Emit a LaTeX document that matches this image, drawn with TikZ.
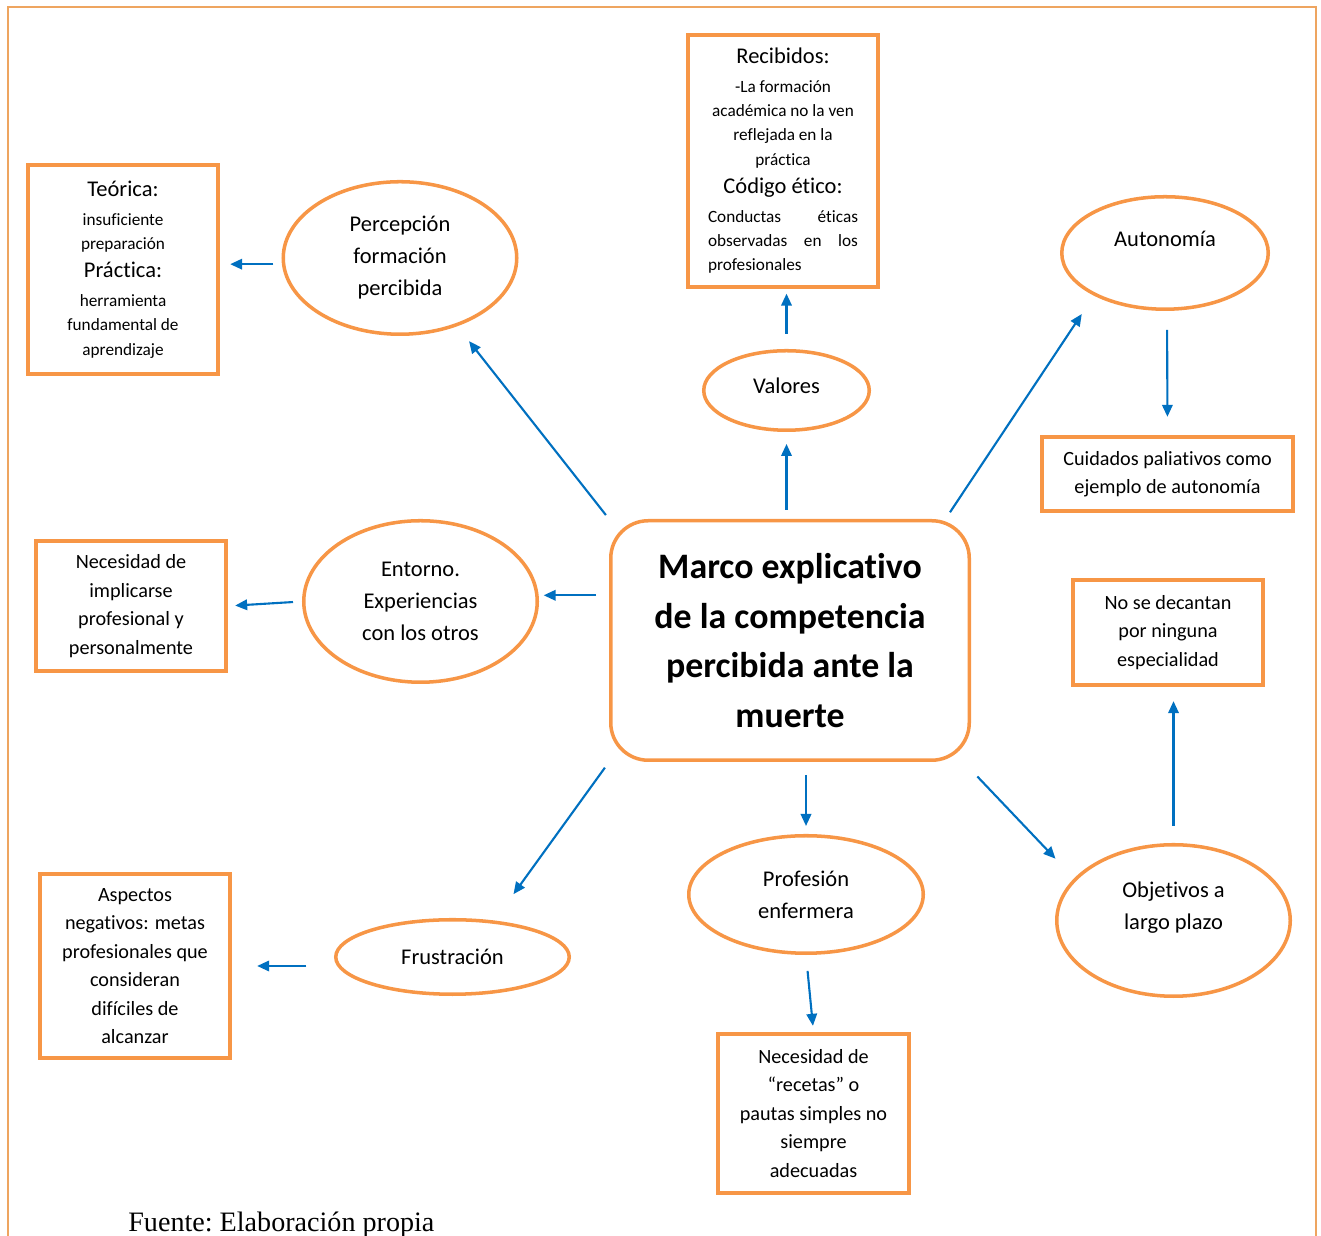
\documentclass[tikz,border=0pt]{standalone}
\usepackage{fontspec}
\setmainfont{Carlito}[Ligatures={TeX,NoCommon}]
\newfontfamily\mecSourceFont{Liberation Serif}
\usetikzlibrary{arrows.meta}
\usetikzlibrary{shapes.geometric}
\definecolor{mecOrange}{HTML}{F79646}
\definecolor{mecBlue}{HTML}{0070C0}
\definecolor{mecFrame}{HTML}{EEA560}
\newcommand{\mecHead}{\fontsize{12.8}{16}\selectfont}
\tikzset{
  mec box/.style={
    rectangle,
    draw=mecOrange,
    line width=2.2pt,
    fill=white,
    align=center,
    inner sep=0pt,
    font=\fontsize{11.5}{16.2}\selectfont,
  },
}
\tikzset{
  mec notes/.style={
    mec box,
    font=\fontsize{9.8}{13.8}\selectfont,
  },
}
\tikzset{
  mec oval/.style={
    ellipse,
    draw=mecOrange,
    line width=2pt,
    fill=white,
    align=center,
    inner sep=0pt,
    font=\fontsize{12.8}{18.2}\selectfont,
  },
}
\tikzset{
  mec core/.style={
    rectangle,
    rounded corners=0.75cm,
    draw=mecOrange,
    line width=2pt,
    align=center,
    inner sep=0pt,
    font=\bfseries\fontsize{20.4}{28.2}\selectfont,
  },
}
\tikzset{
  mec arrow/.style={
    -{Triangle[length=2.4mm,width=2.1mm]},
    draw=mecBlue,
    line width=1.2pt,
  },
}
\tikzset{
  mec frame/.style={
    draw=mecFrame,
    line width=1pt,
  },
}

\begin{document}
\begin{tikzpicture}

  \useasboundingbox (0,0) rectangle (26.42,24.72);

  % =========================================================================
  % page frame (open at the bottom)
  % =========================================================================
  \draw[mec frame] (0.16,0) -- (0.16,24.58) -- (26.32,24.58) -- (26.32,0);

  % =========================================================================
  % central box
  % =========================================================================
  \node[mec core, minimum width=7.17cm, minimum height=4.79cm]
    (marco) at (15.80, 11.91)
    {Marco explicativo\\de la competencia\\percibida ante la\\muerte};

  % =========================================================================
  % upper left: perception of training
  % =========================================================================
  \node[mec oval, minimum width=4.67cm, minimum height=3.05cm]
    (percepcion) at (8.00, 19.56) {Percepción\\formación\\percibida};
  \node[mec notes, minimum width=3.81cm, minimum height=4.19cm]
    (teorica) at (2.46, 19.33)
    {{\mecHead Teórica:}\\[2.5pt]
     insuficiente\\
     preparación\\[2.5pt]
     {\mecHead Práctica:}\\[2.5pt]
     herramienta\\
     fundamental de\\
     aprendizaje};

  % =========================================================================
  % top: values
  % =========================================================================
  \node[mec oval, minimum width=3.31cm, minimum height=1.59cm, text depth=0.2cm]
    (valores) at (15.73, 16.91) {Valores};
  \node[mec notes, minimum width=3.81cm, minimum height=5.05cm]
    (recibidos) at (15.66, 21.50)
    {{\mecHead Recibidos:}\\[2.5pt]
     -La formación\\
     académica no la ven\\
     reflejada en la\\
     práctica\\[2.5pt]
     {\mecHead Código ético:}\\[2.5pt]
     \makebox[3cm][s]{Conductas éticas}\\
     \makebox[3cm][s]{observadas en los}\\
     \makebox[3cm][l]{profesionales}};

  % =========================================================================
  % upper right: autonomy
  % =========================================================================
  \node[mec oval, minimum width=4.13cm, minimum height=2.25cm, text depth=0.55cm]
    (autonomia) at (23.30, 19.66) {Autonomía};
  \node[mec box, minimum width=5.03cm, minimum height=1.49cm]
    (cuidados) at (23.35, 15.24) {Cuidados paliativos como\\ejemplo de autonomía};

  % =========================================================================
  % left: surroundings
  % =========================================================================
  \node[mec oval, minimum width=4.67cm, minimum height=3.23cm]
    (entorno) at (8.41, 12.69) {Entorno.\\Experiencias\\con los otros};
  \node[mec box, minimum width=3.81cm, minimum height=2.61cm]
    (implicarse) at (2.62, 12.60)
    {Necesidad de\\implicarse\\profesional y\\personalmente};

  % =========================================================================
  % right: long-term goals
  % =========================================================================
  \node[mec oval, minimum width=4.67cm, minimum height=3.03cm, text depth=0.6cm]
    (objetivos) at (23.47, 6.31) {Objetivos a\\largo plazo};
  \node[mec box, minimum width=3.81cm, minimum height=2.11cm]
    (decantan) at (23.36, 12.07) {No se decantan\\por ninguna\\especialidad};

  % =========================================================================
  % lower left: frustration
  % =========================================================================
  \node[mec oval, minimum width=4.67cm, minimum height=1.49cm]
    (frustracion) at (9.05, 5.58) {Frustración};
  \node[mec box, minimum width=3.81cm, minimum height=3.69cm]
    (aspectos) at (2.70, 5.40)
    {Aspectos\\negativos: metas\\profesionales que\\consideran\\difíciles de\\alcanzar};

  % =========================================================================
  % bottom: nursing profession
  % =========================================================================
  \node[mec oval, minimum width=4.69cm, minimum height=2.35cm]
    (profesion) at (16.12, 6.83) {Profesión\\enfermera};
  \node[mec box, minimum width=3.83cm, minimum height=3.19cm]
    (recetas) at (16.27, 2.45)
    {Necesidad de\\“recetas” o\\pautas simples no\\siempre\\adecuadas};

  % =========================================================================
  % arrows
  % =========================================================================
  \draw[mec arrow, shorten <=1mm, shorten >=3.8mm]
    (marco.north west) -- (percepcion.-50);
  \draw[mec arrow, shorten <=1.7mm, shorten >=2mm]
    (percepcion.183) -- (percepcion.183 -| teorica.east);
  \draw[mec arrow, shorten <=1.8mm, shorten >=2.4mm]
    (valores.south |- marco.north) -- (valores.south);
  \draw[mec arrow, shorten <=3mm, shorten >=0.9mm]
    (valores.north) -- (valores.north |- recibidos.south);
  \draw[mec arrow, shorten <=1.6mm, shorten >=4.4mm]
    (marco.38) -- (autonomia.211);
  \draw[mec arrow, shorten <=3.8mm, shorten >=3.6mm]
    (autonomia.-88) -- (cuidados.north);
  \draw[mec arrow, shorten <=2.6mm, shorten >=1mm]
    (entorno.3 -| marco.west) -- (entorno.3);
  \draw[mec arrow, shorten <=1.8mm, shorten >=1.4mm]
    (entorno.west) -- (implicarse.east);
  \draw[mec arrow, shorten <=1.4mm, shorten >=6.5mm]
    (marco.south west) -- (frustracion.41);
  \draw[mec arrow, shorten <=5.5mm, shorten >=5mm]
    (aspectos.east -| frustracion.west) -- (aspectos.east);
  \draw[mec arrow, shorten <=2.6mm, shorten >=1.6mm]
    (profesion.north |- marco.south) -- (profesion.north);
  \draw[mec arrow, shorten <=3.2mm, shorten >=1.2mm]
    (profesion.south) -- (recetas.north);
  \draw[mec arrow, shorten <=4mm, shorten >=5.4mm]
    (marco.-35.6) -- (objetivos.157.9);
  \draw[mec arrow, shorten <=3.4mm, shorten >=2.8mm]
    (objetivos.north) -- (objetivos.north |- decantan.south);

  % =========================================================================
  % source line
  % =========================================================================
  \node[font=\mecSourceFont\fontsize{16}{19}\selectfont\frenchspacing,
        anchor=base west, inner sep=0pt]
    (fuente) at (2.56, 0.08) {Fuente: Elaboración propia};

\end{tikzpicture}
\end{document}
